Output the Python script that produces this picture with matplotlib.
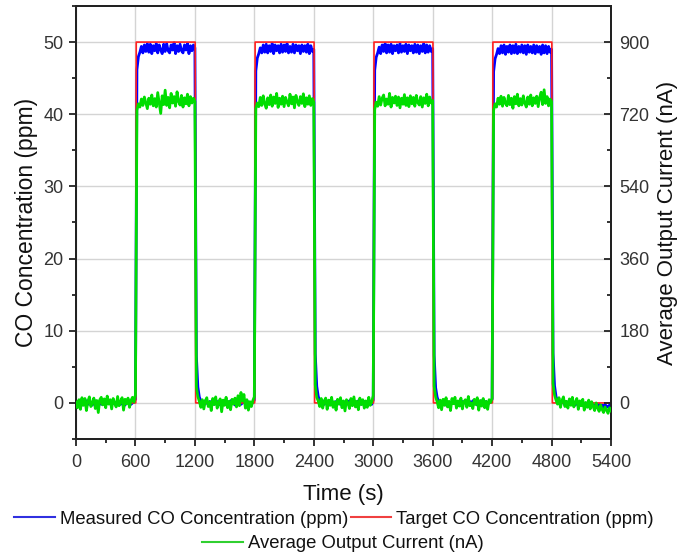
import numpy as np
import matplotlib
matplotlib.use("Agg")
import matplotlib.pyplot as plt
from matplotlib.lines import Line2D
from matplotlib.ticker import MultipleLocator

plt.rcParams['font.family'] = ['Liberation Sans', 'DejaVu Sans']

# ---------------- data ----------------
dt = 15  # sampling step (s) of the measured series

# Average output current (nA), sampled every 15 s from t = 0
green_seg0 = [2, -12, 8, -16, 13, -6, 11, -19, 4, 15, -9, 0, 12, -14, 6, -24, 8, 14, -5, 10,
              -12, 17, -3, 8, -15, 11, 0, -10, 16, -7, 4, 13, -18, 9, -2, 12, -11, 6, 14, 2]
green_seg1 = [20, 730, 746, 738, 758, 742, 763, 748, 734, 760, 745, 768, 741, 759, 738, 774, 748, 722, 766, 744,
              780, 742, 762, 736, 772, 748, 764, 740, 776, 752, 743, 767, 738, 761, 746, 770, 741, 764, 748, 760]
green_seg2 = [752, 40, 16, 4, -11, 8, -15, 5, 13, -9, 3, -19, 11, -4, 15, -13, 0, 10, -22, 7,
              -6, 14, -12, 4, -17, 9, -3, 12, -10, 18, -7, 26, 5, 21, -13, 8, -18, 3, -9, 6]
green_seg3 = [15, 734, 748, 739, 762, 742, 766, 746, 735, 761, 744, 768, 740, 763, 747, 772, 737, 760, 745, 765,
              739, 762, 750, 741, 770, 746, 763, 736, 767, 751, 742, 764, 747, 771, 739, 761, 745, 766, 742, 759]
green_seg4 = [750, 45, 14, 5, -9, 11, -13, 4, 12, -16, 7, -6, 14, -11, 3, -18, 9, -3, 13, -12,
              5, -20, 8, 0, -14, 11, -7, 15, -10, 4, -17, 12, -4, 8, -13, 5, -11, 14, -6, 3]
green_seg5 = [18, 732, 750, 740, 764, 743, 760, 768, 741, 758, 745, 772, 738, 762, 748, 765, 742, 763, 736, 760,
              745, 769, 742, 761, 739, 766, 746, 762, 740, 767, 749, 743, 764, 738, 761, 747, 770, 741, 763, 748]
green_seg6 = [754, 42, 15, 3, -12, 7, -17, 9, -6, 13, -10, 4, -19, 11, -2, 14, -13, 5, -8, 12,
              -15, 3, 8, -11, 16, -7, 0, -14, 9, -4, 13, -18, 6, -8, 11, -12, 4, -16, 8, 1]
green_seg7 = [12, 730, 746, 738, 760, 745, 765, 740, 762, 747, 741, 767, 744, 760, 735, 764, 746, 770, 741, 759,
              743, 766, 748, 738, 763, 745, 768, 741, 761, 747, 765, 739, 762, 775, 744, 781, 747, 764, 741, 758]
green_seg8 = [752, 48, 20, 7, -3, 13, -11, 6, 15, -9, 4, -13, 10, -6, 14, -10, 2, 11, -16, 5,
              -7, 9, -18, 1, -11, 7, -15, 3, -9, -19, 0, -12, -21, -5, -16, -24, -10, -18, -26, -12, -20]

# Measured CO concentration (ppm), sampled every 15 s from t = 0
blue_seg0 = [0.1, -0.3, 0.3, 0.0, -0.3, 0.2, 0.0, 0.3, -0.2, 0.1, 0.0, -0.3, 0.2, 0.3, -0.2, 0.0, 0.2, -0.2, 0.3, 0.0,
             -0.2, 0.2, 0.0, 0.3, -0.3, 0.1, 0.0, -0.2, 0.3, 0.1, -0.2, 0.0, 0.2, -0.3, 0.1, 0.0, 0.3, -0.2, 0.0, 0.1]
blue_seg1 = [0.5, 46.2, 48.0, 48.6, 49.4, 48.5, 49.6, 48.7, 49.8, 48.6, 49.7, 48.4, 49.5, 48.8, 49.8, 48.5, 49.6, 48.9, 48.4, 49.7,
             48.7, 49.8, 48.8, 48.5, 49.6, 48.9, 49.9, 48.4, 49.5, 48.7, 49.7, 48.8, 48.5, 49.6, 48.9, 49.8, 48.4, 49.5, 48.8, 49.6]
blue_seg2 = [49.2, 6.5, 2.2, 0.8, 0.3, 0.1, -0.3, 0.3, 0.0, -0.2, 0.2, 0.0, 0.3, -0.2, 0.0, 0.2, -0.3, 0.1, 0.0, 0.3,
             -0.2, 0.0, 0.2, -0.2, 0.3, 0.0, 0.1, -0.3, 0.0, 0.2, 0.3, -0.2, 0.0, 0.2, -0.2, 0.3, 0.0, -0.2, 0.1, 0.0]
blue_seg3 = [0.4, 46.0, 47.8, 48.4, 49.2, 48.5, 49.6, 48.6, 49.7, 48.5, 49.5, 48.7, 49.8, 48.4, 49.6, 48.8, 49.5, 48.5, 49.7, 48.6,
             49.6, 48.7, 49.8, 48.5, 49.4, 48.6, 49.7, 48.5, 49.6, 48.8, 49.5, 48.4, 49.6, 48.7, 49.5, 48.6, 49.7, 48.4, 49.5, 48.7]
blue_seg4 = [49.0, 6.8, 2.3, 0.9, 0.3, 0.0, 0.3, -0.2, 0.2, 0.0, -0.3, 0.1, 0.3, 0.0, -0.2, 0.2, 0.0, 0.3, -0.2, 0.0,
             0.2, -0.3, 0.0, 0.1, 0.3, -0.2, 0.0, 0.2, -0.2, 0.0, 0.3, 0.1, -0.2, 0.0, 0.2, -0.3, 0.0, 0.1, 0.0, -0.2]
blue_seg5 = [0.4, 46.1, 47.9, 48.5, 49.3, 48.4, 49.6, 48.7, 49.8, 48.5, 49.6, 48.6, 49.7, 48.4, 49.5, 48.8, 49.6, 48.5, 49.8, 48.6,
             49.5, 48.7, 49.7, 48.4, 49.6, 48.8, 49.5, 48.5, 49.7, 48.6, 49.6, 48.4, 49.5, 48.7, 49.8, 48.5, 49.6, 48.6, 49.5, 48.7]
blue_seg6 = [49.1, 6.6, 2.1, 0.8, 0.2, -0.2, 0.2, 0.0, 0.3, -0.3, 0.1, 0.0, -0.2, 0.2, 0.3, 0.0, -0.2, 0.1, 0.0, -0.3,
             0.2, 0.0, 0.3, -0.2, 0.0, 0.2, -0.2, 0.3, 0.0, 0.1, -0.3, 0.0, 0.2, 0.3, -0.2, 0.0, 0.2, -0.2, 0.0, 0.1]
blue_seg7 = [0.5, 45.9, 47.7, 48.3, 49.1, 48.4, 49.5, 48.5, 49.6, 48.3, 49.4, 48.6, 49.6, 48.4, 49.5, 48.5, 49.7, 48.4, 49.4, 48.6,
             49.6, 48.5, 49.5, 48.3, 49.6, 48.6, 49.4, 48.5, 49.6, 48.4, 49.5, 48.6, 49.4, 48.3, 49.6, 48.5, 49.5, 48.4, 49.4, 48.6]
blue_seg8 = [49.0, 6.9, 2.4, 0.9, 0.3, 0.1, -0.2, 0.3, 0.0, -0.2, 0.2, -0.3, 0.0, 0.1, -0.2, 0.0, -0.3, 0.1, -0.2, -0.3,
             0.0, -0.2, -0.4, 0.0, -0.3, -0.1, -0.4, -0.1, -0.3, -0.5, -0.1, -0.4, -0.2, -0.5, -0.3, -0.6, -0.2, -0.5, -0.6, -0.3, -0.5]

# Target CO concentration (ppm): square steps
red_t = [0, 603, 608, 1203, 1208, 1803, 1808, 2403, 2408, 3003, 3008, 3603, 3608, 4203, 4208, 4803, 4808, 5400]
red_v = [0, 0, 50, 50, 0, 0, 50, 50, 0, 0, 50, 50, 0, 0, 50, 50, 0, 0]

x_ticks = [0, 600, 1200, 1800, 2400, 3000, 3600, 4200, 4800, 5400]
y_ticks = [0, 10, 20, 30, 40, 50]
y2_ticks = [0, 180, 360, 540, 720, 900]

green = np.array(green_seg0 + green_seg1 + green_seg2 + green_seg3 + green_seg4 +
                 green_seg5 + green_seg6 + green_seg7 + green_seg8, dtype=float)
blue = np.array(blue_seg0 + blue_seg1 + blue_seg2 + blue_seg3 + blue_seg4 +
                blue_seg5 + blue_seg6 + blue_seg7 + blue_seg8, dtype=float)
t_green = np.arange(len(green)) * dt
t_blue = np.arange(len(blue)) * dt

# ---------------- figure ----------------
fig = plt.figure(figsize=(6.81, 5.56), dpi=100)
ax = fig.add_axes([76/681, 1-439/556, (611-76)/681, (439-6)/556])

ax.grid(True, color='#d4d4d4', linewidth=1.0, zorder=0)
ax.set_axisbelow(True)

ax.plot(t_blue, blue, color='#0000ff', linewidth=2.0, zorder=3)
ax.plot(red_t, red_v, color='#ff2020', linewidth=1.2, zorder=4)

ax.set_xlim(0, 5400)
ax.set_ylim(-5, 55)
ax.set_xticks(x_ticks)
ax.set_yticks(y_ticks)
ax.xaxis.set_minor_locator(MultipleLocator(300))
ax.yaxis.set_minor_locator(MultipleLocator(5))

ax2 = ax.twinx()
ax2.plot(t_green, green, color='#00dd00', linewidth=2.0, zorder=5)
ax2.set_ylim(-5 * 18, 55 * 18)
ax2.set_yticks(y2_ticks)
ax2.yaxis.set_minor_locator(MultipleLocator(90))

for a in (ax, ax2):
    a.tick_params(which='major', length=5, width=1.3,
                  labelsize=13, labelcolor='#333333', color='#222222')
    a.tick_params(which='minor', length=2.6, width=1.3, color='#222222')
    for s in a.spines.values():
        s.set_linewidth(1.4)
        s.set_color('#222222')
ax.tick_params(which='both', direction='out')
ax2.tick_params(which='both', direction='in')
ax.tick_params(axis='x', pad=6)
ax.tick_params(axis='y', pad=4)
ax2.tick_params(axis='y', pad=6)

ax.set_xlabel('Time (s)', fontsize=16, color='#111111', labelpad=9)
ax.set_ylabel('CO Concentration (ppm)', fontsize=16.5, color='#111111', labelpad=4)
ax2.set_ylabel('Average Output Current (nA)', fontsize=16, color='#111111', labelpad=5)

h1 = [Line2D([], [], color='#3030e0', linewidth=1.5),
      Line2D([], [], color='#f04040', linewidth=1.5)]
leg1 = fig.legend(h1, ['Measured CO Concentration (ppm)', 'Target CO Concentration (ppm)'],
                  loc='center', ncol=2, frameon=False, fontsize=13.3, handlelength=2.2,
                  handletextpad=0.25, columnspacing=0.15, borderaxespad=0, borderpad=0)
leg1.set_bbox_to_anchor((334/681, 1 - 519/556), transform=fig.transFigure)
leg2 = fig.legend([Line2D([], [], color='#30d030', linewidth=1.5)], ['Average Output Current (nA)'],
                  loc='center', frameon=False, fontsize=13.3, handlelength=2.2,
                  handletextpad=0.25, borderaxespad=0, borderpad=0)
leg2.set_bbox_to_anchor((343/681, 1 - 544/556), transform=fig.transFigure)
for lg in (leg1, leg2):
    for txt in lg.get_texts():
        txt.set_color('#111111')

fig.savefig('out.png', dpi=100)
